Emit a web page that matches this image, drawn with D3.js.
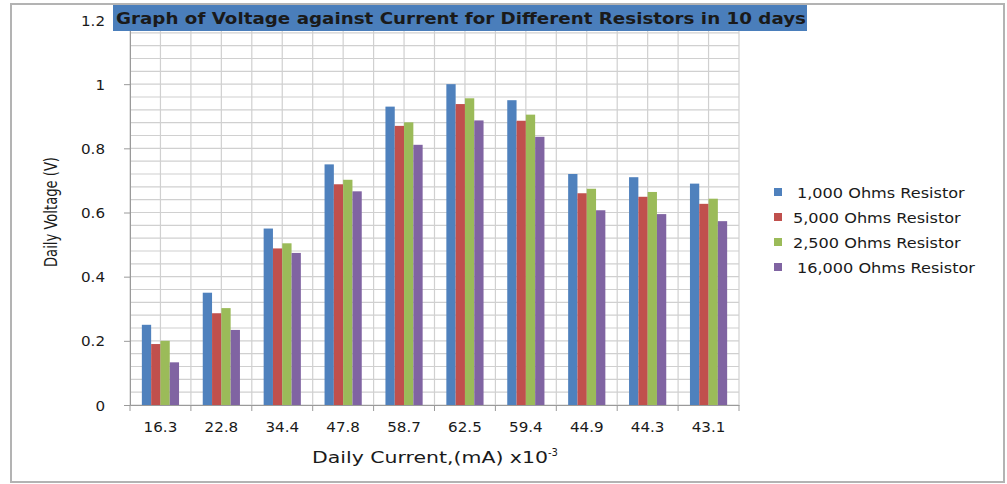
<!DOCTYPE html>
<html><head><meta charset="utf-8">
<script src="https://cdn.jsdelivr.net/npm/d3@7"></script>
<style>
html,body{margin:0;padding:0;background:#fff;}
text{font-family:"DejaVu Sans",Verdana,sans-serif;fill:#1a1a1a;}
</style></head>
<body><svg id="c" width="1007" height="484"></svg>
<script>
const categories = ["16.3","22.8","34.4","47.8","58.7","62.5","59.4","44.9","44.3","43.1"];
const seriesNames = ["1,000 Ohms Resistor","5,000 Ohms Resistor","2,500 Ohms Resistor","16,000 Ohms Resistor"];
const s1000  = [0.25,0.35,0.55,0.75,0.93,1.00,0.95,0.72,0.71,0.69];
const s5000  = [0.19,0.286,0.488,0.688,0.87,0.938,0.886,0.66,0.649,0.627];
const s2500  = [0.20,0.302,0.504,0.702,0.881,0.956,0.905,0.674,0.664,0.643];
const s16000 = [0.133,0.234,0.474,0.666,0.811,0.887,0.836,0.607,0.595,0.573];
const yTicks = [0,0.2,0.4,0.6,0.8,1,1.2];
const colors = ["#4f81bd","#c0504d","#9bbb59","#8064a2"];
const series = [s1000,s5000,s2500,s16000];

const svg = d3.select("#c");
function stretch(sel,k){
  sel.each(function(){
    const w=this.getComputedTextLength();
    if(w>0) d3.select(this).attr("textLength",w*k).attr("lengthAdjust","spacingAndGlyphs");
  });
}
// outer border
svg.append("rect").attr("x",11).attr("y",4).attr("width",993).attr("height",478)
  .attr("fill","#fff").attr("stroke","#b3b3b3").attr("stroke-width",2);

const L=130,R=739,T=20,B=405;
const x = d3.scaleBand().domain(categories).range([L,R]).padding(0);
const y = d3.scaleLinear().domain([0,1.2]).range([B,T]);

// horizontal gridlines every 0.04
const hgrid = d3.range(0,1.2001,0.04);
svg.append("g").selectAll("line").data(hgrid).join("line")
  .attr("x1",L).attr("x2",R).attr("y1",d=>y(d)).attr("y2",d=>y(d))
  .attr("stroke","#d0d0d0").attr("stroke-width",1.2);
// vertical gridlines at category edges and centers
const vg = [];
categories.forEach(c=>{vg.push(x(c)); vg.push(x(c)+x.bandwidth()/2);});
vg.push(R);
svg.append("g").selectAll("line").data(vg).join("line")
  .attr("x1",d=>d).attr("x2",d=>d).attr("y1",T).attr("y2",B)
  .attr("stroke","#d0d0d0").attr("stroke-width",1.2);

// bars
const bw = 9.3;
const inner = d3.scaleBand().domain(d3.range(4)).range([-2*bw,2*bw]).padding(0);
series.forEach((s,si)=>{
  svg.append("g").selectAll("rect").data(s).join("rect")
    .attr("x",(d,i)=>x(categories[i])+x.bandwidth()/2+inner(si))
    .attr("width",inner.bandwidth())
    .attr("y",d=>y(d)).attr("height",d=>B-y(d))
    .attr("fill",colors[si]);
});

// axes
const ya = svg.append("g").attr("transform",`translate(${L},0)`)
  .call(d3.axisLeft(y).tickValues(yTicks).tickFormat(d=>d===0?"0":d3.format("")(+d.toFixed(1))).tickSize(6).tickPadding(19));
ya.select(".domain").attr("stroke","#9a9a9a");
ya.selectAll(".tick line").attr("stroke","#9a9a9a");
ya.selectAll("text").style("font-size","14px").attr("fill","#1a1a1a").style("font-family","DejaVu Sans").attr("dy","0.36em");
stretch(ya.selectAll("text"),1.08);

const xa = svg.append("g").attr("transform",`translate(0,${B})`)
  .call(d3.axisBottom(x).tickSize(0).tickPadding(17));
xa.select(".domain").attr("stroke","#9a9a9a");
xa.selectAll("text").style("font-size","14px").attr("fill","#1a1a1a").style("font-family","DejaVu Sans");
stretch(xa.selectAll("text"),1.08);
// category separator ticks
svg.append("g").selectAll("line").data(categories.map(c=>x(c)).concat([R])).join("line")
  .attr("x1",d=>d).attr("x2",d=>d).attr("y1",B).attr("y2",B+6).attr("stroke","#9a9a9a");

// title box
const title = svg.append("g");
title.append("rect").attr("x",113).attr("y",5).attr("width",694).attr("height",26).attr("fill","#4a7ebb");
const tt = title.append("text").attr("x",461).attr("y",24).attr("text-anchor","middle")
  .style("font-size","16.5px").style("font-weight","bold").attr("fill","#111")
  .text("Graph of Voltage against Current for Different Resistors in 10 days");
if (tt.node().getComputedTextLength()>0) tt.attr("textLength",690).attr("lengthAdjust","spacingAndGlyphs");

// axis titles
const xt = svg.append("text").attr("x",312).attr("y",463).attr("text-anchor","start")
  .style("font-size","16px");
const xt1 = xt.append("tspan").text("Daily Current,(mA) x10");
const xt2 = xt.append("tspan").attr("dy",-7).style("font-size","10px").text("-3");
{
  const w=xt1.node().getComputedTextLength();
  if(w>0) xt1.attr("textLength",236).attr("lengthAdjust","spacingAndGlyphs");
}

const yt = svg.append("text").attr("transform","translate(57,212) rotate(-90)").attr("text-anchor","middle")
  .attr("font-family","Liberation Sans, sans-serif").attr("font-size",18)
  .text("Daily Voltage (V)");
if (yt.node().getComputedTextLength()>0) yt.attr("textLength",110).attr("lengthAdjust","spacingAndGlyphs");

// legend
const lg = svg.append("g");
seriesNames.forEach((n,i)=>{
  const yy = 193 + i*25;
  lg.append("rect").attr("x",774).attr("y",yy-5).attr("width",8).attr("height",8).attr("fill",colors[i]);
  const t = lg.append("text").attr("x",i===1||i===2?793:797).attr("y",yy+5).style("font-size","14px").text(n);
  stretch(t,1.15);
});
</script></body></html>
